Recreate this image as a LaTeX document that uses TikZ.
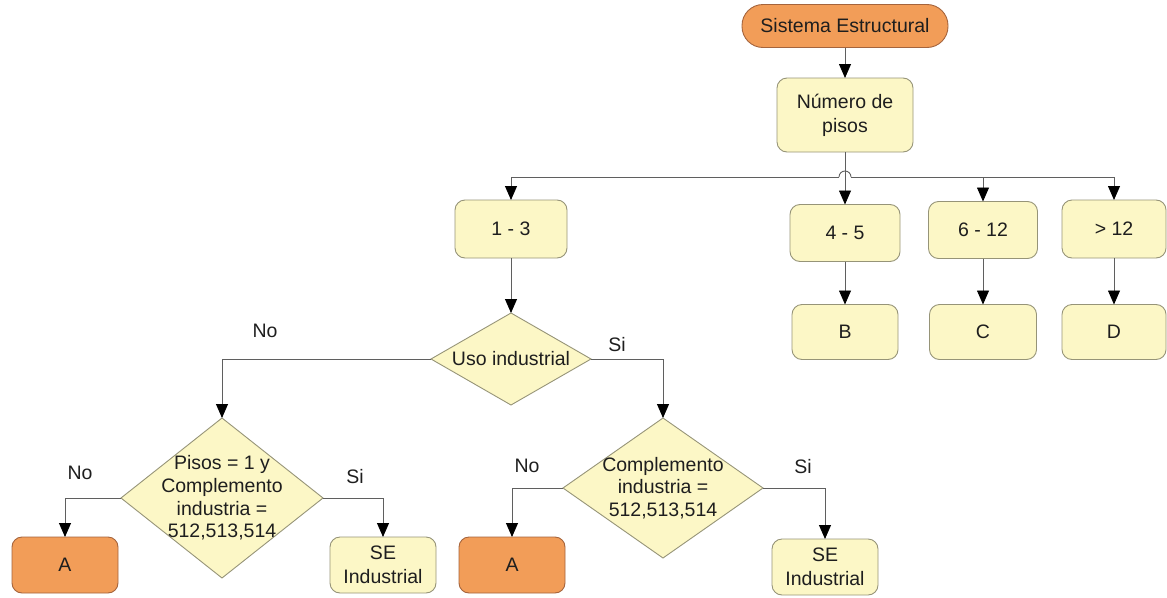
\documentclass[tikz,border=0pt]{standalone}
\usepackage{fontspec}
\setmainfont{Liberation Sans}
\usetikzlibrary{shapes.geometric,arrows.meta}
\definecolor{boxfill}{RGB}{252,247,198}
\definecolor{boxline}{RGB}{150,148,120}
\definecolor{endfill}{RGB}{242,157,88}
\definecolor{endline}{RGB}{165,100,60}
\definecolor{wire}{RGB}{95,95,95}
\definecolor{ink}{RGB}{30,30,30}
\tikzset{
  base/.style={inner sep=0pt, outer sep=0pt, align=center, text=ink,
    font=\fontsize{19.5}{24}\selectfont},
  procbox/.style={base, draw=boxline, fill=boxfill, line width=0.9pt,
    rounded corners=10pt},
  endbox/.style={base, draw=endline, fill=endfill, line width=0.9pt,
    rounded corners=10pt},
  decision/.style={base, diamond, draw=boxline, fill=boxfill, line width=0.9pt},
  lbl/.style={base},
  arr/.style={draw=wire, line width=0.9pt,
    -{Triangle[width=12pt,length=14pt,color=black,fill=black]}},
  wireline/.style={draw=wire, line width=0.9pt}
}
\begin{document}
\begin{tikzpicture}[x=1pt,y=-1pt]
\useasboundingbox (0,0) rectangle (1167,597);

% top of the tree
\node[endbox, minimum width=206, minimum height=43, rounded corners=21pt]
  (sis) at (845,26) {Sistema Estructural};
\node[procbox, minimum width=136, minimum height=74] (num) at (845,115)
  {Número de\\pisos};

% floor-count ranges
\node[procbox, minimum width=112, minimum height=58] (r13)  at (511,229)  {1 - 3};
\node[procbox, minimum width=110, minimum height=57] (r45)  at (845,233)  {4 - 5};
\node[procbox, minimum width=109, minimum height=57] (r612) at (983,230)  {6 - 12};
\node[procbox, minimum width=104, minimum height=58] (r12)  at (1114,229) {> 12};

\node[procbox, minimum width=106, minimum height=55] (nb) at (845,332)  {B};
\node[procbox, minimum width=107, minimum height=55] (nc) at (983,332)  {C};
\node[procbox, minimum width=104, minimum height=55] (nd) at (1114,332) {D};

% decisions
\node[decision, minimum width=160, minimum height=92] (uso) at (511,359) {};
\node[lbl] (usot) at (uso.center) {Uso industrial};
\node[decision, minimum width=202, minimum height=160] (pis) at (222,498) {};
\node[lbl, font=\fontsize{19.5}{22.7}\selectfont] (pist) at (pis.center)
  {Pisos = 1 y\\Complemento\\industria =\\512,513,514};
\node[decision, minimum width=200, minimum height=140] (com) at (663,488) {};
\node[lbl, font=\fontsize{19.5}{22.5}\selectfont] (comt) at (com.center)
  {Complemento\\industria =\\512,513,514};

% outcomes
\node[endbox, minimum width=106, minimum height=56]  (a1)  at (65,565)  {A};
\node[procbox, minimum width=106, minimum height=56] (se1) at (383,565) {SE\\Industrial};
\node[endbox, minimum width=106, minimum height=56]  (a2)  at (512,565) {A};
\node[procbox, minimum width=106, minimum height=56] (se2) at (825,567) {SE\\Industrial};

% branch labels
\node[lbl] (lno1) at (265,331) {No};
\node[lbl] (lsi1) at (617,345) {Si};
\node[lbl] (lno2) at (80,473)  {No};
\node[lbl] (lsi2) at (355,477) {Si};
\node[lbl] (lno3) at (527,466) {No};
\node[lbl] (lsi3) at (803,467) {Si};

% connectors
\draw[arr] (sis) -- (num);
\draw[arr] (num) -- (r45);
\coordinate (hopw) at (839,177);
\coordinate (hope) at (851,177);
\draw[arr] (hopw) -| (r13.north);
\draw[wireline] (hopw) arc[start angle=180, end angle=360, radius=6];
\draw[arr] (hope) -| (r612.north);
\draw[arr] (r612.north |- hope) -| (r12.north);

\draw[arr] (r45) -- (nb);
\draw[arr] (r612) -- (nc);
\draw[arr] (r12) -- (nd);

\draw[arr] (r13) -- (uso);
\draw[arr] (uso.west) -| (pis.north);
\draw[arr] (uso.east) -| (com.north);
\draw[arr] (pis.west) -| (a1.north);
\draw[arr] (pis.east) -| (se1.north);
\draw[arr] (com.west) -| (a2.north);
\draw[arr] (com.east) -| (se2.north);
\end{tikzpicture}
\end{document}
